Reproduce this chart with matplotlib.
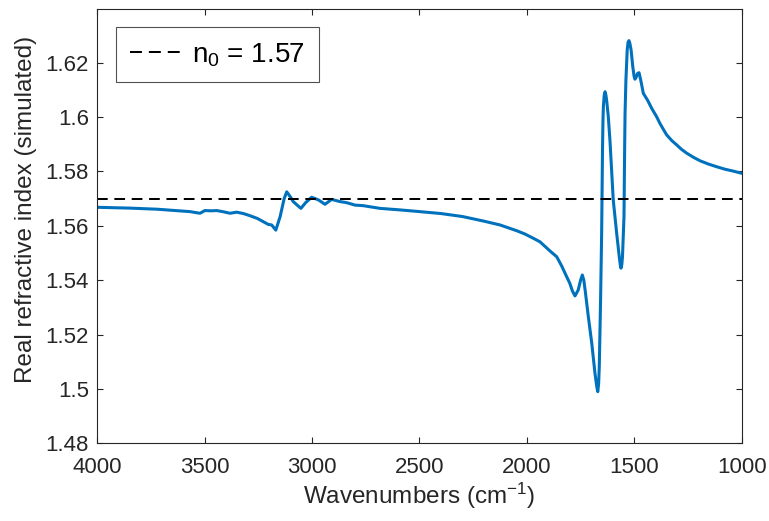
import matplotlib
matplotlib.use("Agg")
import matplotlib.pyplot as plt
from matplotlib.lines import Line2D

plt.rcParams["font.family"] = ["Liberation Sans", "DejaVu Sans"]
plt.rcParams["mathtext.fontset"] = "custom"
plt.rcParams["mathtext.rm"] = "Liberation Sans"
plt.rcParams["mathtext.it"] = "Liberation Sans"

# Simulated real refractive index spectrum
wavenumber = [
    4000, 3850, 3723, 3568, 3522, 3499, 3470, 3444, 3410, 3382, 3351, 3320,
    3289, 3255, 3227, 3204, 3188, 3169, 3149, 3130, 3118, 3100, 3088, 3052,
    3030, 3002, 2970, 2940, 2909, 2870, 2839, 2800, 2762, 2684, 2600, 2498,
    2400, 2300, 2200, 2125, 2048, 2010, 1970, 1939, 1892, 1861, 1838, 1815,
    1800, 1788, 1776, 1761, 1750, 1742, 1735, 1729, 1714, 1698, 1683, 1674,
    1670, 1666, 1663, 1657, 1652, 1648, 1646, 1644, 1640, 1636, 1632, 1628,
    1621, 1613, 1598, 1582, 1570, 1565, 1562, 1558, 1555, 1548, 1545, 1543,
    1539, 1533, 1529, 1525, 1521, 1515, 1507, 1501, 1497, 1492, 1485, 1478,
    1470, 1458, 1439, 1419, 1396, 1381, 1365, 1349, 1325, 1302, 1280, 1256,
    1225, 1194, 1155, 1116, 1078, 1039, 1000,
]
n_real = [
    1.5668, 1.5665, 1.5661, 1.5652, 1.5646, 1.5656, 1.5655, 1.5656, 1.5651, 1.5646, 1.5650, 1.5645,
    1.5637, 1.5627, 1.5615, 1.5605, 1.5603, 1.5584, 1.5633, 1.5700, 1.5725, 1.5705, 1.5689, 1.5664,
    1.5685, 1.5705, 1.5695, 1.5679, 1.5697, 1.5689, 1.5685, 1.5676, 1.5674, 1.5664, 1.5659, 1.5652,
    1.5645, 1.5634, 1.5617, 1.5603, 1.5582, 1.5570, 1.5554, 1.5541, 1.5507, 1.5486, 1.5452, 1.5413,
    1.5388, 1.5360, 1.5342, 1.5364, 1.5400, 1.5419, 1.5400, 1.5364, 1.5266, 1.5168, 1.5057, 1.5005,
    1.4990, 1.5020, 1.5082, 1.5327, 1.5572, 1.5879, 1.5980, 1.6038, 1.6080, 1.6093, 1.6080, 1.6056,
    1.6001, 1.5910, 1.5695, 1.5572, 1.5486, 1.5455, 1.5444, 1.5458, 1.5486, 1.5633, 1.5879, 1.6014,
    1.6136, 1.6247, 1.6275, 1.6281, 1.6272, 1.6247, 1.6185, 1.6150, 1.6139, 1.6145, 1.6160, 1.6163,
    1.6136, 1.6087, 1.6063, 1.6032, 1.6001, 1.5977, 1.5955, 1.5934, 1.5913, 1.5897, 1.5881, 1.5867,
    1.5852, 1.5839, 1.5827, 1.5817, 1.5808, 1.5801, 1.5793,
]
n0 = 1.57

xticks = [4000, 3500, 3000, 2500, 2000, 1500, 1000]
yticks = [1.48, 1.50, 1.52, 1.54, 1.56, 1.58, 1.60, 1.62]
ytick_labels = ["1.48", "1.5", "1.52", "1.54", "1.56", "1.58", "1.6", "1.62"]

fig = plt.figure(figsize=(7.69, 5.21), dpi=100)
ax = fig.add_axes([0.1265, 0.1491, 0.838, 0.833])

ax.plot(wavenumber, n_real, color="#0072BD", lw=2.2,
        solid_joinstyle="round", solid_capstyle="round")
lw_d = 1.45
ax.axhline(n0, color="black", lw=lw_d, linestyle=(0, (7.7 / lw_d, 4.8 / lw_d)))

ax.set_xlim(4000, 1000)
ax.set_ylim(1.48, 1.6396)
ax.set_xticks(xticks)
ax.set_yticks(yticks)
ax.set_yticklabels(ytick_labels)

edge = "#262626"
for s in ax.spines.values():
    s.set_color(edge)
    s.set_linewidth(0.8)
ax.tick_params(direction="in", length=4.5, width=0.8, colors=edge,
               labelsize=16, top=True, right=True)
ax.tick_params(axis="x", pad=10)
ax.tick_params(axis="y", pad=6)

ax.set_xlabel("Wavenumbers (cm$^{-1}$)", fontsize=17.5, color=edge, labelpad=2)
ax.set_ylabel("Real refractive index (simulated)", fontsize=17.5, color=edge)
ax.yaxis.set_label_coords(-0.0936, 0.54)

handle = Line2D([], [], color="black", lw=lw_d, linestyle=(0, (8.6 / lw_d, 5.0 / lw_d)))
leg = ax.legend([handle], ["n$_{0}$ = 1.57"], loc="upper left",
                bbox_to_anchor=(0.0288, 0.959), fontsize=20, frameon=True,
                fancybox=False, handlelength=1.95, handletextpad=0.3,
                borderpad=0.5, borderaxespad=0.0)
leg.get_frame().set_edgecolor(edge)
leg.get_frame().set_linewidth(0.8)

fig.savefig("out.png", dpi=100)
